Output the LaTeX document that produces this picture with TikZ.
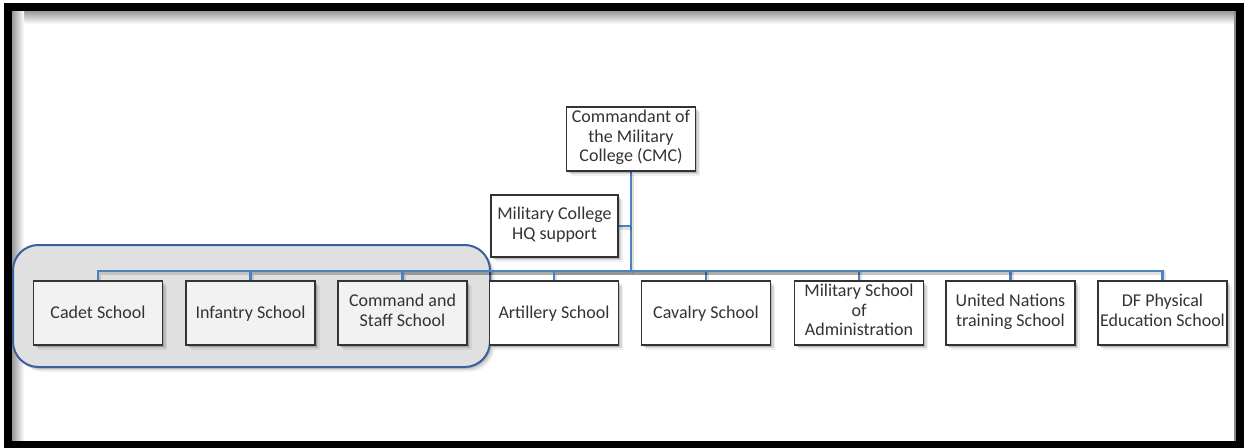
\documentclass[tikz,border=0pt]{standalone}
\usepackage{fontspec}
\setmainfont{Carlito}
\usetikzlibrary{shadows}
\definecolor{linkblue}{HTML}{4F81BD}
\definecolor{groupedge}{HTML}{3A5F9E}
\pgfdeclarelayer{panel}
\pgfdeclarelayer{links}
\pgfsetlayers{panel,links,main}
\newcommand{\topstrut}{\rule{0pt}{12.4pt}}
\newcommand{\botstrut}{\rule[-4.4pt]{0pt}{1pt}}
\tikzset{
  soft shadow/.style={
    drop shadow={shadow xshift=1.2pt, shadow yshift=-1.2pt, opacity=0.14, fill=black},
    drop shadow={shadow xshift=2.4pt, shadow yshift=-2.4pt, opacity=0.10, fill=black},
    drop shadow={shadow xshift=3.6pt, shadow yshift=-3.6pt, opacity=0.06, fill=black}},
  unitbox/.style={draw=black!80, line width=1.4pt, fill=white,
    minimum width=96.75pt, minimum height=48pt, inner xsep=1pt, inner ysep=0pt,
    align=center, font=\fontsize{13.5}{14.6}\selectfont, text=black!80, soft shadow,
    execute at begin node=\topstrut, execute at end node=\botstrut},
  groupedbox/.style={unitbox, fill=black!5},
  link/.style={draw=linkblue, line width=1.8pt,
    preaction={draw=black, draw opacity=0.12, line width=2.6pt,
      transform canvas={xshift=1pt, yshift=-1.6pt}}},
}
\begin{document}
\begin{tikzpicture}[x=0.75pt, y=-0.75pt]
  \useasboundingbox (0,0) rectangle (1246,447);

  \begin{pgfonlayer}{panel}
    \fill[white] (0,0) rectangle (1246,447);
    % inner shading of the frame
    \shade[top color=black!40, bottom color=white] (12,11) rectangle (1236,24);
    \shade[left color=black!40, right color=white] (12,11) rectangle (24,441);
    \draw[black!45, line width=1.2pt] (1235,11) -- (1235,441);
    % frame
    \draw[line width=6.5pt] (8,7) rectangle (1240,445);
    % grouped schools panel
    \draw[groupedge, fill=black!12, line width=1.5pt, rounded corners=19pt, soft shadow]
      (13,245) rectangle (490,367);
  \end{pgfonlayer}

  % top level
  \node[unitbox] (cmc) at (631,139)
    {Commandant of\\the Military\\College (CMC)};
  \node[unitbox, minimum width=95.25pt, minimum height=46.5pt] (hq) at (554.5,226)
    {Military College\\HQ support};

  % schools
  \node[groupedbox] (cadet) at (98,313)    {Cadet School};
  \node[groupedbox] (inf)   at (250.5,313) {Infantry School};
  \node[groupedbox] (csc)   at (402.5,313) {Command and\\Staff School};
  \node[unitbox]    (art)   at (554,313)   {Artillery School};
  \node[unitbox]    (cav)   at (706,313)   {Cavalry School};
  \node[unitbox]    (adm)   at (859,313)   {Military School\\of\\Administration};
  \node[unitbox]    (un)    at (1010.5,313){United Nations\\training School};
  \node[unitbox]    (dfpe)  at (1162.5,313){DF Physical\\Education School};

  \coordinate (bus) at (631,271);

  % connectors, drawn beneath the boxes
  \begin{pgfonlayer}{links}
    \draw[link] (cmc.south) -- (bus);
    \draw[link] (hq.east) -- (hq.east -| cmc.south);
    \foreach \child in {cadet,inf,csc,art,cav,adm,un,dfpe}
      \draw[link] (bus) -| (\child.north);
  \end{pgfonlayer}
\end{tikzpicture}
\end{document}
